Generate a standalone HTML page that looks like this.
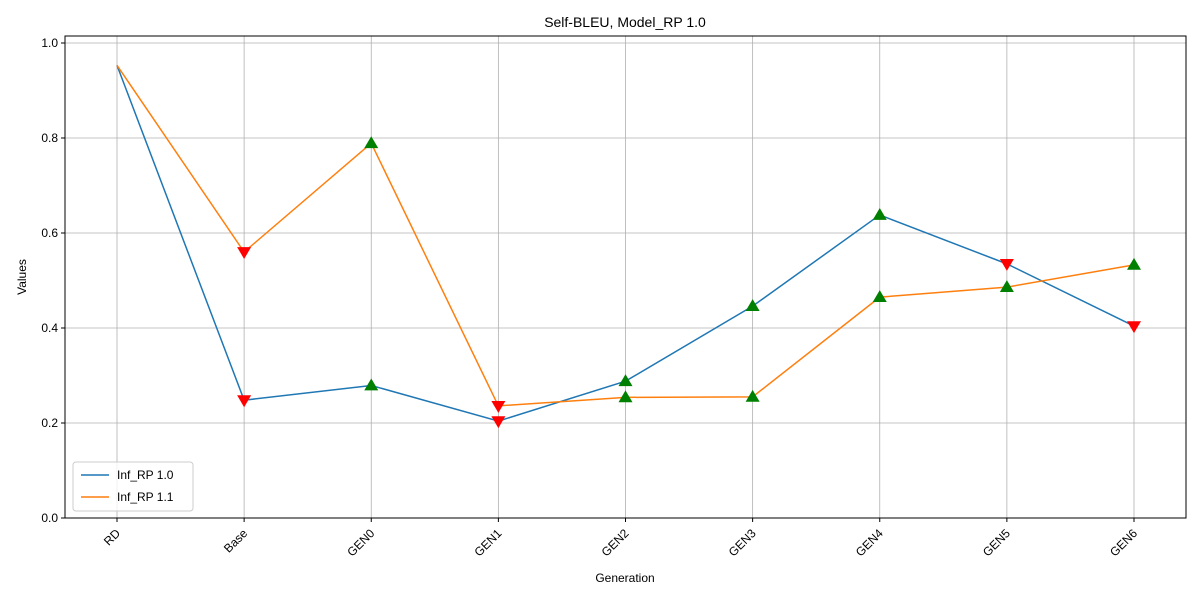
<!DOCTYPE html>
<html><head><meta charset="utf-8"><style>
body{margin:0;background:#fff;}
svg text{font-family:"Liberation Sans","DejaVu Sans",sans-serif;fill:#000;}
</style></head><body>
<svg id="chart" width="1200" height="600" xmlns="http://www.w3.org/2000/svg">
<rect width="1200" height="600" fill="#fff"/>
<g id="grid"></g><g id="axes"></g><g id="lines"></g><g id="markers"></g>
<text x="625" y="27" font-size="14" text-anchor="middle">Self-BLEU, Model_RP 1.0</text>
<text x="625" y="582" font-size="12" text-anchor="middle">Generation</text>
<text transform="translate(26,277) rotate(-90)" font-size="12" text-anchor="middle">Values</text>
<g>
<rect x="73" y="462" width="120" height="49" rx="3" fill="#fff" fill-opacity="0.8" stroke="#ccc"/>
<line x1="81" y1="475" x2="109" y2="475" stroke="#1f77b4" stroke-width="1.5"/>
<text x="117" y="479" font-size="12">Inf_RP 1.0</text>
<line x1="81" y1="497" x2="109" y2="497" stroke="#ff7f0e" stroke-width="1.5"/>
<text x="117" y="501" font-size="12">Inf_RP 1.1</text>
</g>
</svg>
<script>
const categories=["RD","Base","GEN0","GEN1","GEN2","GEN3","GEN4","GEN5","GEN6"];
const seriesA=[0.953,0.248,0.279,0.204,0.288,0.446,0.638,0.535,0.404];
const seriesB=[0.953,0.560,0.789,0.236,0.254,0.255,0.465,0.486,0.533];
const yTicks=[0.0,0.2,0.4,0.6,0.8,1.0];
const NS="http://www.w3.org/2000/svg";
const L=65,R=1186,T=36,B=518;
const xs=i=>117+i*(1134-117)/(categories.length-1);
const ys=v=>B-475*v;
function mk(tag,attrs,parent){const e=document.createElementNS(NS,tag);for(const k in attrs)e.setAttribute(k,attrs[k]);document.getElementById(parent).appendChild(e);return e;}
categories.forEach((c,i)=>{
 const g=mk('line',{x1:xs(i),x2:xs(i),y1:T,y2:B,stroke:'#b0b0b0','stroke-width':0.8},'grid');
 
 
 mk('line',{x1:xs(i),x2:xs(i),y1:B,y2:B+4,stroke:'#000'},'axes');
 const t=mk('text',{x:0,y:0,'font-size':12,'text-anchor':'end',transform:`translate(${xs(i)+4},${B+16}) rotate(-45)`},'axes');
 t.textContent=c;
 
 
});
yTicks.forEach(v=>{
 const g=mk('line',{x1:L,x2:R,y1:ys(v),y2:ys(v),stroke:'#b0b0b0','stroke-width':0.8},'grid');
 
 
 mk('line',{x1:L-4,x2:L,y1:ys(v),y2:ys(v),stroke:'#000'},'axes');
 const t=mk('text',{x:L-7,y:ys(v)+4,'font-size':12,'text-anchor':'end'},'axes');
 t.textContent=v.toFixed(1);
 
 
});
const fr=mk('rect',{x:L,y:T,width:R-L,height:B-T,fill:'none',stroke:'#000','stroke-width':1},'axes');


function drawSeries(vals,color,name){
 const p=mk('polyline',{points:vals.map((v,i)=>xs(i)+','+ys(v)).join(' '),fill:'none',stroke:color,'stroke-width':1.5},'lines');
 
 
 for(let i=1;i<vals.length;i++){
  const x=xs(i),y=ys(vals[i]),s=7;
  const up=vals[i]>vals[i-1];
  const pts=up?`${x},${y-s} ${x-s},${y+s*0.7} ${x+s},${y+s*0.7}`:`${x},${y+s} ${x-s},${y-s*0.7} ${x+s},${y-s*0.7}`;
  const m=mk('polygon',{points:pts,fill:up?'green':'red'},'markers');
  
  
 }
}
drawSeries(seriesA,'#1f77b4','inf-rp-1-0');
drawSeries(seriesB,'#ff7f0e','inf-rp-1-1');
</script>
</body></html>
